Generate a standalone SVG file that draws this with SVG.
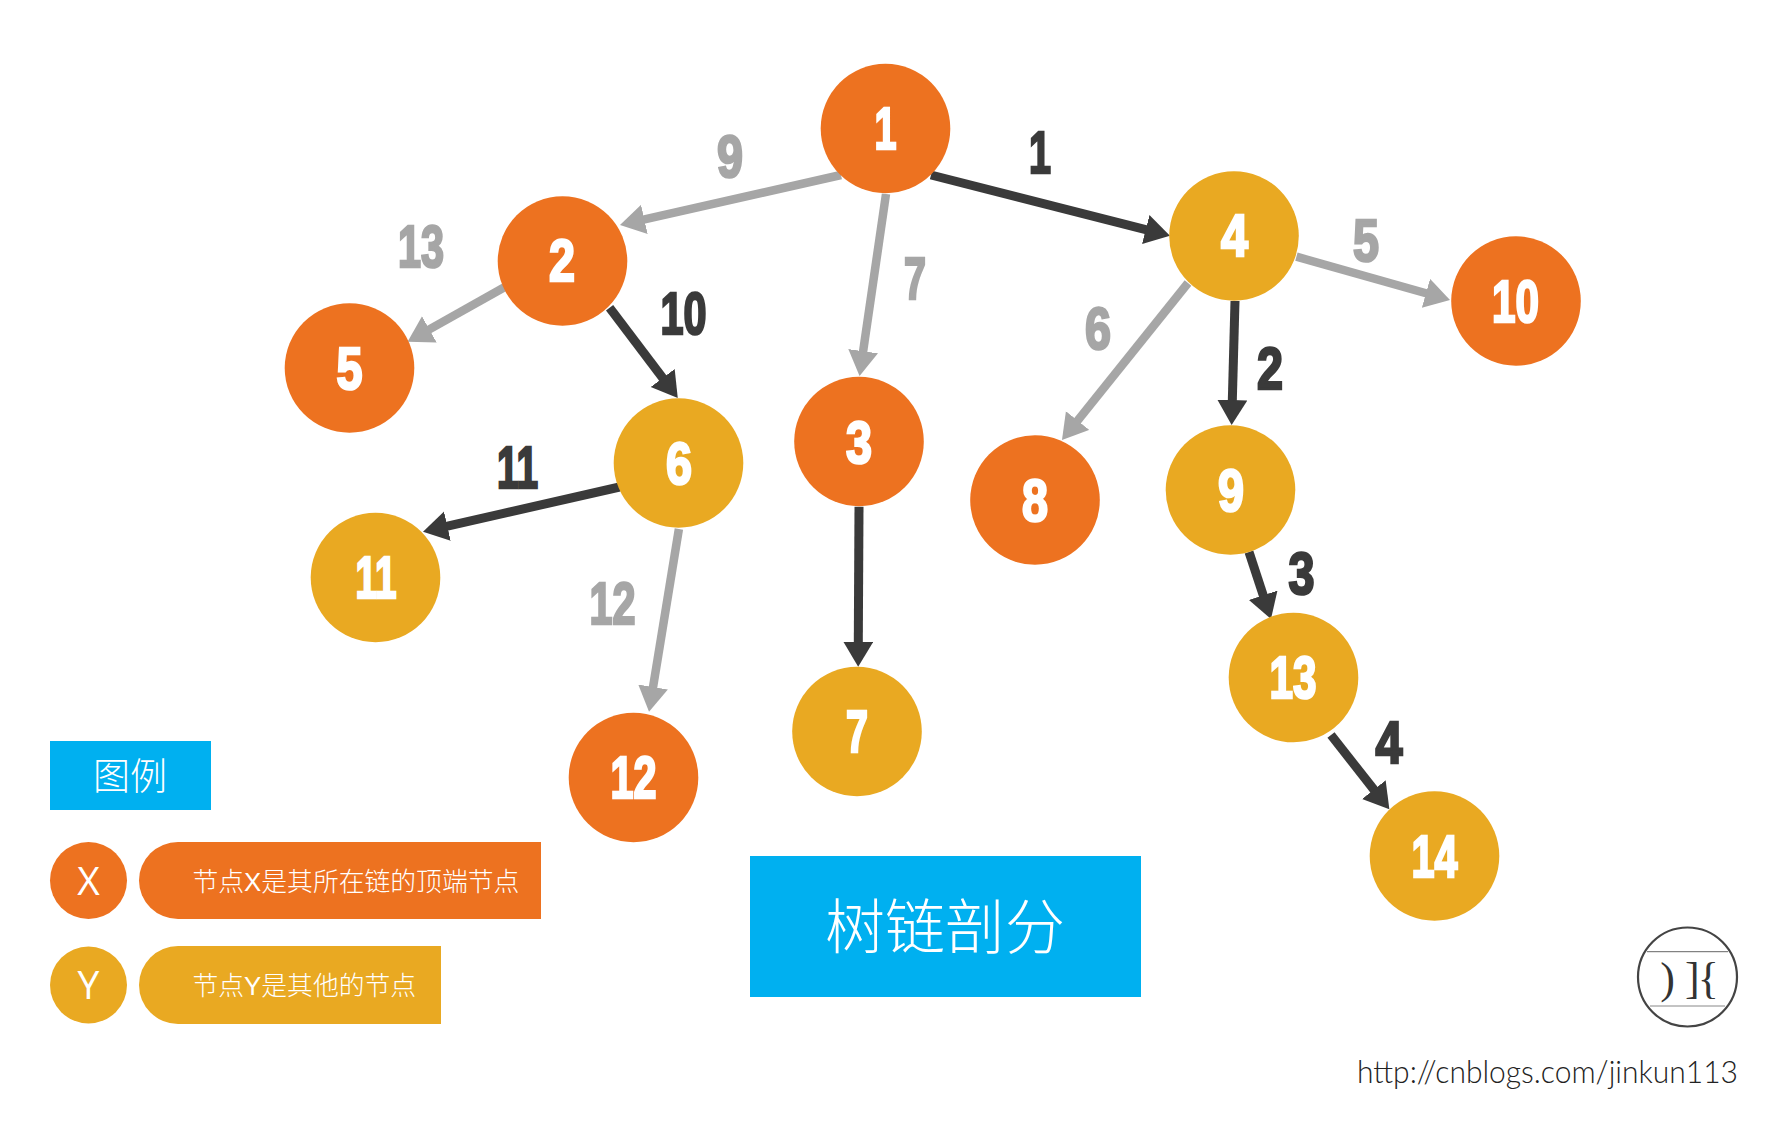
<svg xmlns="http://www.w3.org/2000/svg" width="1771" height="1129" viewBox="0 0 1771 1129">
<style>
.o{fill:#ED7220}.g{fill:#E9A922}.b{fill:#00B0F0}
.n{font-family:"Liberation Sans",Arial,sans-serif;font-weight:700;font-size:59px;text-anchor:middle;stroke-width:2.6}
.w{fill:#fff;stroke:#fff}
.dk{fill:#3A3A3A;stroke:#3A3A3A}
.gy{fill:#A6A6A6;stroke:#A6A6A6}
.c{font-family:"Liberation Sans","Noto Sans CJK SC",sans-serif;font-weight:300;fill:#fff}
.cj{font-family:"Noto Sans CJK SC",sans-serif;font-weight:300;fill:#fff}
.le{font-family:"Open Sans",sans-serif;font-weight:400;font-size:39px;fill:#fff;text-anchor:middle}
.ld{fill:none;stroke:#3A3A3A;stroke-width:9}
.lg{fill:none;stroke:#A6A6A6;stroke-width:8.5}
</style>
<defs>
<marker id="ad" markerUnits="userSpaceOnUse" markerWidth="32" markerHeight="32" refX="1" refY="15" orient="auto"><polygon points="0,0 25,15 0,30" fill="#3A3A3A"/></marker>
<marker id="ag" markerUnits="userSpaceOnUse" markerWidth="32" markerHeight="32" refX="1" refY="15" orient="auto"><polygon points="0,0 25,15 0,30" fill="#A6A6A6"/></marker>
</defs>
<rect width="1771" height="1129" fill="#fff"/>
<g id="connectors">
<line class="lg" marker-end="url(#ag)" x1="841" y1="175" x2="643.4" y2="219.7"/>
<line class="lg" marker-end="url(#ag)" x1="886" y1="194" x2="863" y2="352.2"/>
<line class="ld" marker-end="url(#ad)" x1="931" y1="175" x2="1146.7" y2="229.8"/>
<line class="lg" marker-end="url(#ag)" x1="504.4" y1="287.3" x2="428.5" y2="329.9"/>
<line class="ld" marker-end="url(#ad)" x1="609.6" y1="307.7" x2="663.3" y2="378.8"/>
<line class="lg" marker-end="url(#ag)" x1="1296.4" y1="256.7" x2="1426.9" y2="293.5"/>
<line class="lg" marker-end="url(#ag)" x1="1188" y1="283" x2="1077" y2="421.3"/>
<line class="ld" marker-end="url(#ad)" x1="1235" y1="301" x2="1232.3" y2="401"/>
<line class="ld" marker-end="url(#ad)" x1="1249" y1="552" x2="1263.5" y2="596.2"/>
<line class="ld" marker-end="url(#ad)" x1="1331" y1="735" x2="1374.5" y2="790.4"/>
<line class="ld" marker-end="url(#ad)" x1="619.6" y1="487" x2="446.4" y2="526.4"/>
<line class="lg" marker-end="url(#ag)" x1="678.9" y1="529" x2="652.9" y2="688"/>
<line class="ld" marker-end="url(#ad)" x1="859" y1="506.7" x2="858.3" y2="642.7"/>
</g>
<g id="edge-labels">
<text class="n gy" x="730" y="176.500" textLength="26" lengthAdjust="spacingAndGlyphs">9</text>
<text class="n gy" x="421" y="266.500" textLength="46" lengthAdjust="spacingAndGlyphs">13</text>
<text class="n dk" x="683.500" y="333.500" textLength="46" lengthAdjust="spacingAndGlyphs">10</text>
<text class="n gy" x="915" y="298.500" textLength="22" lengthAdjust="spacingAndGlyphs">7</text>
<text class="n dk" x="1040" y="172.500" textLength="22" lengthAdjust="spacingAndGlyphs">1</text>
<text class="n gy" x="1366" y="260.500" textLength="26" lengthAdjust="spacingAndGlyphs">5</text>
<text class="n gy" x="1098" y="348.500" textLength="26" lengthAdjust="spacingAndGlyphs">6</text>
<text class="n dk" x="1270" y="388.500" textLength="26" lengthAdjust="spacingAndGlyphs">2</text>
<text class="n dk" x="1301.500" y="593.500" textLength="26" lengthAdjust="spacingAndGlyphs">3</text>
<text class="n dk" x="1389" y="762.500" textLength="27" lengthAdjust="spacingAndGlyphs">4</text>
<text class="n dk" x="517.600" y="487.500" textLength="41" lengthAdjust="spacingAndGlyphs">11</text>
<text class="n gy" x="612.500" y="623.500" textLength="46" lengthAdjust="spacingAndGlyphs">12</text>
</g>
<g id="node-1"><circle class="o" cx="885.500" cy="128.500" r="64.800"/><text class="n w" x="885.500" y="148.500" textLength="22" lengthAdjust="spacingAndGlyphs">1</text></g>
<g id="node-2"><circle class="o" cx="562.500" cy="261" r="64.800"/><text class="n w" x="562" y="281" textLength="26" lengthAdjust="spacingAndGlyphs">2</text></g>
<g id="node-3"><circle class="o" cx="859" cy="441.500" r="64.800"/><text class="n w" x="859" y="462.500" textLength="26" lengthAdjust="spacingAndGlyphs">3</text></g>
<g id="node-4"><circle class="g" cx="1234" cy="236" r="64.800"/><text class="n w" x="1234.500" y="256" textLength="27" lengthAdjust="spacingAndGlyphs">4</text></g>
<g id="node-5"><circle class="o" cx="349.500" cy="368" r="64.800"/><text class="n w" x="349.500" y="388.500" textLength="26" lengthAdjust="spacingAndGlyphs">5</text></g>
<g id="node-6"><circle class="g" cx="678.500" cy="463" r="64.800"/><text class="n w" x="679" y="483.500" textLength="26" lengthAdjust="spacingAndGlyphs">6</text></g>
<g id="node-7"><circle class="g" cx="857" cy="731.500" r="64.800"/><text class="n w" x="857" y="751.500" textLength="22" lengthAdjust="spacingAndGlyphs">7</text></g>
<g id="node-8"><circle class="o" cx="1035" cy="500" r="64.800"/><text class="n w" x="1035" y="520.500" textLength="26" lengthAdjust="spacingAndGlyphs">8</text></g>
<g id="node-9"><circle class="g" cx="1230.500" cy="490" r="64.800"/><text class="n w" x="1231" y="510.500" textLength="26" lengthAdjust="spacingAndGlyphs">9</text></g>
<g id="node-10"><circle class="o" cx="1516" cy="301" r="64.800"/><text class="n w" x="1515.500" y="321.500" textLength="47" lengthAdjust="spacingAndGlyphs">10</text></g>
<g id="node-11"><circle class="g" cx="375.500" cy="577.500" r="64.800"/><text class="n w" x="376" y="598" textLength="41" lengthAdjust="spacingAndGlyphs">11</text></g>
<g id="node-12"><circle class="o" cx="633.500" cy="777.500" r="64.800"/><text class="n w" x="633.500" y="798" textLength="46" lengthAdjust="spacingAndGlyphs">12</text></g>
<g id="node-13"><circle class="g" cx="1293.500" cy="677.500" r="64.800"/><text class="n w" x="1293" y="697.500" textLength="47" lengthAdjust="spacingAndGlyphs">13</text></g>
<g id="node-14"><circle class="g" cx="1434.500" cy="856" r="64.800"/><text class="n w" x="1434.500" y="876.500" textLength="46" lengthAdjust="spacingAndGlyphs">14</text></g>
<g id="legend">
<rect class="b" x="50" y="741" width="161" height="69"/>
<text class="cj" x="130" y="790" font-size="37" text-anchor="middle">图例</text>
<circle class="o" cx="88.500" cy="880.500" r="38.500"/>
<text class="le" x="88.500" y="894.500">X</text>
<path class="o" d="M178,842H541V919H178A39,38.500 0 0 1 178,842Z"/>
<text class="c" x="192.500" y="890.500" font-size="25.800">节点X是其所在链的顶端节点</text>
<circle class="g" cx="88.500" cy="985" r="38.500"/>
<text class="le" x="88.500" y="999">Y</text>
<path class="g" d="M178,946H441V1024H178A39,39 0 0 1 178,946Z"/>
<text class="c" x="192.500" y="995" font-size="25.800">节点Y是其他的节点</text>
</g>
<g id="title">
<rect class="b" x="750" y="856" width="391" height="141"/>
<text class="cj" x="945" y="949" font-size="60" text-anchor="middle">树链剖分</text>
</g>
<g id="logo">
<circle cx="1687.500" cy="977" r="49.500" fill="none" stroke="#444" stroke-width="2.200"/>
<line x1="1647" y1="951.700" x2="1728" y2="951.700" stroke="#666" stroke-width="1"/>
<line x1="1650" y1="1006" x2="1725" y2="1006" stroke="#888" stroke-width="1"/>
<text x="1667.500" y="993" font-family="Liberation Serif,serif" font-size="44" fill="#333" text-anchor="middle">)</text>
<text x="1685" y="993" font-family="Liberation Serif,serif" font-size="44" fill="#333" letter-spacing="-2">]{</text>
</g>
<text id="url" x="1357" y="1083" font-family="Lato,sans-serif" font-weight="300" font-size="31" fill="#222" textLength="381" lengthAdjust="spacingAndGlyphs">http://cnblogs.com/jinkun113</text>
</svg>
